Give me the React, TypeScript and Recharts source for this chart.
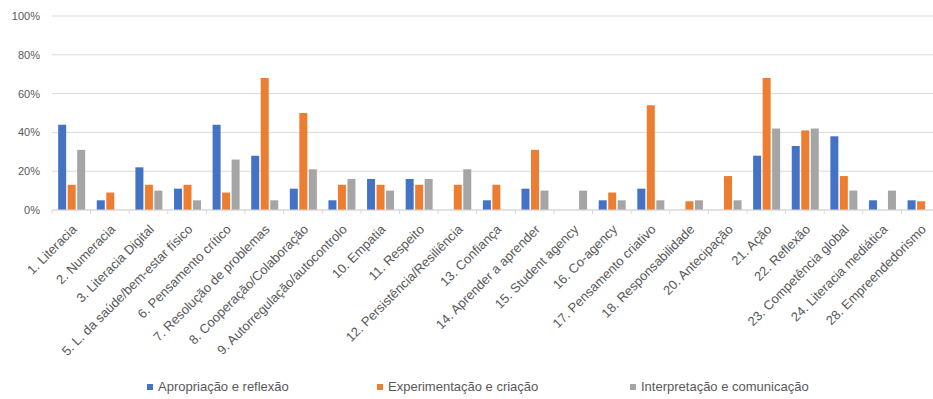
import { BarChart, Bar, XAxis, YAxis, CartesianGrid, Legend } from 'recharts';

// Competências, por ordem de apresentação
const categories = [
  '1. Literacia',
  '2. Numeracia',
  '3. Literacia Digital',
  '5. L. da saúde/bem-estar físico',
  '6. Pensamento crítico',
  '7. Resolução de problemas',
  '8. Cooperação/Colaboração',
  '9. Autorregulação/autocontrolo',
  '10. Empatia',
  '11. Respeito',
  '12. Persistência/Resiliência',
  '13. Confiança',
  '14. Aprender a aprender',
  '15. Student agency',
  '16. Co-agency',
  '17. Pensamento criativo',
  '18. Responsabilidade',
  '20. Antecipação',
  '21. Ação',
  '22. Reflexão',
  '23. Competência global',
  '24. Literacia mediática',
  '28. Empreendedorismo',
];

// percentagens por dimensão (null = sem registo)
const apropriacao = [44, 5, 22, 11, 44, 28, 11, 5, 16, 16, null, 5, 11, null, 5, 11, null, null, 28, 33, 38, 5, 5];
const experimentacao = [13, 9, 13, 13, 9, 68, 50, 13, 13, 13, 13, 13, 31, null, 9, 54, 4.5, 17.5, 68, 41, 17.5, null, 4.5];
const interpretacao = [31, null, 10, 5, 26, 5, 21, 16, 10, 16, 21, null, 10, 10, 5, 5, 5, 5, 42, 42, 10, 10, null];

const yTicks = [0, 20, 40, 60, 80, 100];

const series = [
  { key: 'apropriacao', name: 'Apropriação e reflexão', color: '#4472C4' },
  { key: 'experimentacao', name: 'Experimentação e criação', color: '#ED7D31' },
  { key: 'interpretacao', name: 'Interpretação e comunicação', color: '#A5A5A5' },
];

const data = categories.map((name, i) => ({
  name,
  apropriacao: apropriacao[i],
  experimentacao: experimentacao[i],
  interpretacao: interpretacao[i],
}));

const TEXT = '#595959';
const GRID = '#D9D9D9';

// rótulo inclinado + traço de divisão entre categorias
const CategoryTick = (props: any) => {
  const { x, y, payload, index } = props;
  const half = payload.offset || 19.3;
  const ax = x + 3;
  const ay = y + 9;
  return (
    <g>
      <line x1={x - half} x2={x - half} y1={y - 8} y2={y - 4} stroke={GRID} />
      {index === categories.length - 1 && (
        <line x1={x + half} x2={x + half} y1={y - 8} y2={y - 4} stroke={GRID} />
      )}
      <text
        x={ax}
        y={ay}
        transform={`rotate(-45, ${ax}, ${ay})`}
        textAnchor="end"
        dy="0.35em"
        fill={TEXT}
        fontSize={13}
      >
        {payload.value}
      </text>
    </g>
  );
};

const legendLeft = [147, 377, 630];

const LegendContent = () => (
  <div style={{ position: 'relative', height: 20, width: 933 }}>
    {series.map((s, i) => (
      <div
        key={s.key}
        style={{
          position: 'absolute',
          left: legendLeft[i],
          top: 0,
          display: 'flex',
          alignItems: 'center',
          fontSize: 13,
          color: TEXT,
          whiteSpace: 'nowrap',
        }}
      >
        <span style={{ width: 6, height: 6, background: s.color, marginRight: 5, display: 'inline-block' }} />
        {s.name}
      </div>
    ))}
  </div>
);

export default function App() {
  return (
    <div
      style={{
        position: 'absolute',
        left: 0,
        top: 0,
        width: 933,
        height: 399,
        overflow: 'hidden',
        background: '#fff',
        fontFamily: '"Liberation Sans", Arial, sans-serif',
      }}
    >
      <BarChart
        width={945}
        height={399}
        data={data}
        margin={{ top: 16, right: 5, left: 0, bottom: 0 }}
        barCategoryGap="16%"
        barGap={1.5}
      >
        <CartesianGrid vertical={false} stroke={GRID} />
        <XAxis
          dataKey="name"
          interval={0}
          height={169}
          axisLine={{ stroke: GRID }}
          tickLine={false}
          tick={<CategoryTick />}
        />
        <YAxis
          width={52}
          domain={[0, 100]}
          ticks={yTicks}
          tickFormatter={(v) => `${v}%`}
          axisLine={false}
          tickLine={false}
          tickMargin={6}
          tick={{ fill: TEXT, fontSize: 11 }}
        />
        <Legend
          verticalAlign="bottom"
          content={<LegendContent />}
          wrapperStyle={{ left: 0, bottom: 0 }}
        />
        {series.map((s) => (
          <Bar key={s.key} dataKey={s.key} name={s.name} fill={s.color} isAnimationActive={false} />
        ))}
      </BarChart>
    </div>
  );
}
